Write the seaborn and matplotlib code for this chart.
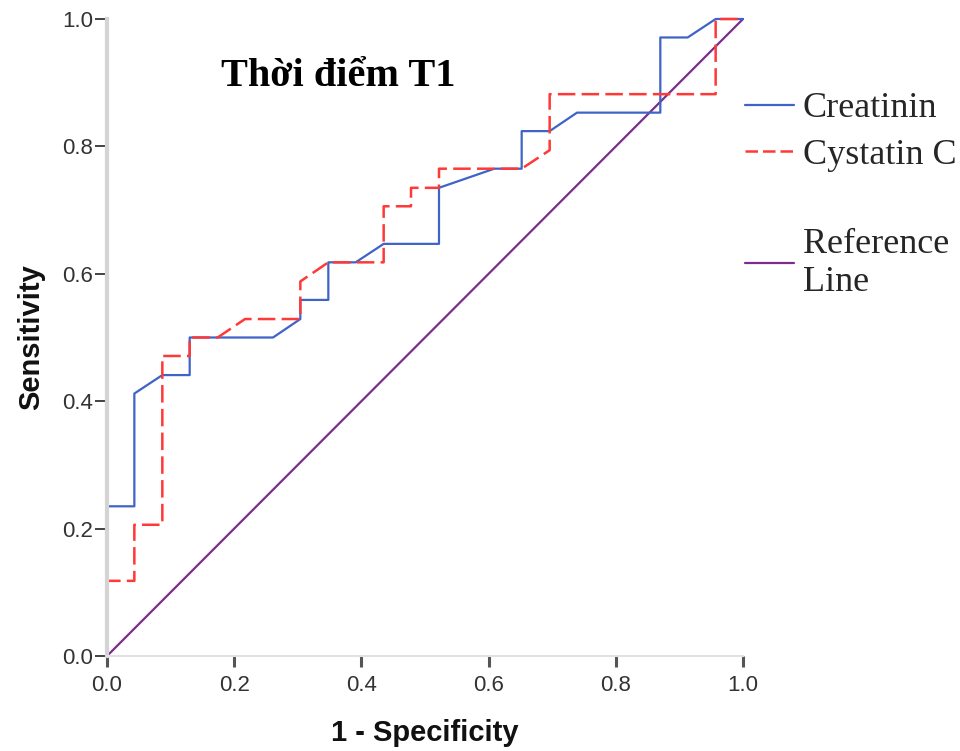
import matplotlib
matplotlib.use("Agg")
import matplotlib.pyplot as plt
from matplotlib.lines import Line2D
import seaborn as sns
import pandas as pd

# ---- data ----
creat_fpr = [0.0, 0.0, 0.043, 0.043, 0.087, 0.130, 0.130, 0.261, 0.304, 0.304, 0.348, 0.348,
             0.391, 0.435, 0.522, 0.522, 0.609, 0.652, 0.652, 0.696, 0.739, 0.870, 0.870,
             0.913, 0.957, 1.0]
creat_tpr = [0.0, 0.235, 0.235, 0.412, 0.441, 0.441, 0.500, 0.500, 0.529, 0.559, 0.559, 0.618,
             0.618, 0.647, 0.647, 0.735, 0.765, 0.765, 0.824, 0.824, 0.853, 0.853, 0.971,
             0.971, 1.0, 1.0]
cyst_fpr = [0.0, 0.0, 0.043, 0.043, 0.087, 0.087, 0.130, 0.130, 0.174, 0.217, 0.304, 0.304,
            0.348, 0.435, 0.435, 0.478, 0.478, 0.522, 0.522, 0.652, 0.696, 0.696, 0.957,
            0.957, 1.0]
cyst_tpr = [0.0, 0.118, 0.118, 0.206, 0.206, 0.471, 0.471, 0.500, 0.500, 0.529, 0.529, 0.588,
            0.618, 0.618, 0.706, 0.706, 0.735, 0.735, 0.765, 0.765, 0.794, 0.882, 0.882,
            1.0, 1.0]
ref_x = [0.0, 1.0]
ref_y = [0.0, 1.0]

series_names = ["Creatinin", "Cystatin C", "Reference\nLine"]
title_text = "Thời điểm T1"
x_label = "1 - Specificity"
y_label = "Sensitivity"
tick_vals = [0.0, 0.2, 0.4, 0.6, 0.8, 1.0]
tick_labels = ["0.0", "0.2", "0.4", "0.6", "0.8", "1.0"]

df_creat = pd.DataFrame({"x": creat_fpr, "y": creat_tpr})
df_cyst = pd.DataFrame({"x": cyst_fpr, "y": cyst_tpr})
df_ref = pd.DataFrame({"x": ref_x, "y": ref_y})

# ---- styling ----
sns.set_theme(style="white")
plt.rcParams["font.family"] = ["Liberation Sans", "DejaVu Sans"]

blue = "#3f63c6"
red = "#ff3838"
purple = "#7b2d8e"

fig = plt.figure(figsize=(9.6, 7.51), dpi=100)
ax = fig.add_axes([107 / 960, 1 - 656 / 751, 636 / 960, 637 / 751])

sns.lineplot(data=df_ref, x="x", y="y", ax=ax, sort=False, estimator=None,
             color=purple, linewidth=1.6, clip_on=False)
sns.lineplot(data=df_creat, x="x", y="y", ax=ax, sort=False, estimator=None,
             color=blue, linewidth=1.6, clip_on=False)
sns.lineplot(data=df_cyst, x="x", y="y", ax=ax, sort=False, estimator=None,
             color=red, linewidth=1.8, dashes=False, clip_on=False)
ax.lines[-1].set_dashes([7, 2.5])

ax.set_xlim(0, 1)
ax.set_ylim(0, 1)
ax.set_xticks(tick_vals)
ax.set_xticklabels(tick_labels)
ax.set_yticks(tick_vals)
ax.set_yticklabels(tick_labels)

for s in ["top", "right"]:
    ax.spines[s].set_visible(False)
ax.spines["left"].set_color("#d4d4d4")
ax.spines["left"].set_linewidth(3.0)
ax.spines["bottom"].set_color("#e2e2e2")
ax.spines["bottom"].set_linewidth(1.5)

ax.tick_params(axis="y", direction="out", length=9, width=1.2, color="#222222",
               labelsize=16, labelcolor="#333333", pad=1, left=True)
ax.tick_params(axis="x", direction="out", length=8, width=2.2, color="#555555",
               labelsize=16, labelcolor="#333333", pad=6, bottom=True)

ax.set_xlabel(x_label, fontsize=21, fontweight="bold", color="#111111", labelpad=16)
ax.set_ylabel(y_label, fontsize=21, fontweight="bold", color="#111111", labelpad=12)

ax.text(0.363, 0.91, title_text, transform=ax.transAxes, ha="center", va="center",
        fontsize=29, fontweight="bold", family=["Liberation Serif", "DejaVu Serif"],
        color="black")

handles = [
    Line2D([], [], color=blue, linewidth=1.6),
    Line2D([], [], color=red, linewidth=1.8, dashes=[5, 2]),
    Line2D([], [], color="none"),
    Line2D([], [], color=purple, linewidth=1.6),
]
labels = [series_names[0], series_names[1], " ", series_names[2]]
leg = fig.legend(handles, labels, loc="upper left", bbox_to_anchor=(745 / 960, 1 - 92 / 751),
                 frameon=False, prop={"family": "Liberation Serif", "size": 26},
                 handlelength=1.35, handletextpad=0.25, labelspacing=0.36,
                 borderaxespad=0, borderpad=0)
leg.get_texts()[2].set_fontsize(16)

fig.savefig("out.png", dpi=100, facecolor="white")
